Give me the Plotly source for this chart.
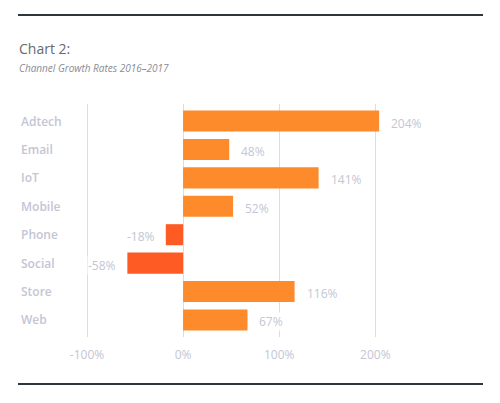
import plotly.graph_objects as go

categories = ["Adtech", "Email", "IoT", "Mobile", "Phone", "Social", "Store", "Web"]
growth = [204, 48, 141, 52, -18, -58, 116, 67]
tick_vals = [-100, 0, 100, 200]
tick_labels = ["-100%", "0%", "100%", "200%"]
title_text = "Chart 2:"
subtitle_text = "Channel Growth Rates 2016\u20132017"

POS = "#fd8a2b"
NEG = "#fd5a24"
LABEL = "#c3c6d4"
FONT = "Open Sans, Lato, sans-serif"

OFF = 8  # page body margin
W, H = 500 - 2 * OFF, 403 - 2 * OFF
# plot area in reference pixel coordinates
PX_L, PX_R, PX_T, PX_B = 83, 473, 104, 337
GRID_M100 = 87  # pixel of -100% gridline
L, T = PX_L - OFF, PX_T - OFF
pw = PX_R - PX_L
ph = PX_B - PX_T
R = W - L - pw
B = H - T - ph
SCALE = 0.961  # px per %

def px_x(p):
    return (p - PX_L) / pw

def px_y(p):
    return (PX_B - p) / ph

colors = [POS if v >= 0 else NEG for v in growth]

fig = go.Figure(go.Bar(
    x=growth, y=categories, orientation="h",
    marker=dict(color=colors, line=dict(width=0)),
    width=0.74, hoverinfo="skip",
))

annotations = []
for c, v in zip(categories, growth):
    annotations.append(dict(
        x=v, y=c, xref="x", yref="y", text=f"{v}%", showarrow=False,
        xanchor="left" if v >= 0 else "right", xshift=11 if v >= 0 else -10,
        yshift=-2, font=dict(family=FONT, size=12, color=LABEL),
        bgcolor="white", borderpad=0,
    ))
    annotations.append(dict(
        x=px_x(19), y=c, xref="paper", yref="y", text=c, showarrow=False,
        xanchor="left", yshift=0,
        font=dict(family=FONT, size=12, color=LABEL, weight=600),
    ))

annotations.append(dict(
    x=px_x(17), y=px_y(49), xref="paper", yref="paper", text=title_text,
    showarrow=False, xanchor="left", yanchor="middle",
    font=dict(family=FONT, size=14, color="#666a70"),
))
annotations.append(dict(
    x=px_x(17), y=px_y(68), xref="paper", yref="paper",
    text=f"<i>{subtitle_text}</i>",
    showarrow=False, xanchor="left", yanchor="middle",
    font=dict(family=FONT, size=10, color="#8a8d94"),
))

shapes = []
for py in (15, 384):
    shapes.append(dict(
        type="line", xref="paper", yref="paper",
        x0=px_x(18), x1=px_x(483), y0=px_y(py), y1=px_y(py),
        line=dict(color="#2e3440", width=2),
    ))

x0 = -100 - (GRID_M100 - PX_L) / SCALE
fig.update_layout(
    width=W, height=H,
    margin=dict(l=L, r=R, t=T, b=B, pad=0),
    paper_bgcolor="white", plot_bgcolor="white",
    showlegend=False,
    xaxis=dict(
        range=[x0, x0 + pw / SCALE], tickvals=tick_vals, ticktext=tick_labels,
        showgrid=True, gridcolor="#dcdde3", gridwidth=1, zeroline=False,
        showline=False, ticks="", ticklabelstandoff=9,
        tickfont=dict(family=FONT, size=12, color=LABEL), fixedrange=True,
    ),
    yaxis=dict(
        range=[7.6, -0.6], showticklabels=False, showgrid=False,
        zeroline=False, showline=False, ticks="", fixedrange=True,
    ),
    annotations=annotations,
    shapes=shapes,
)

fig.write_html("out.html", config={"displayModeBar": False})
